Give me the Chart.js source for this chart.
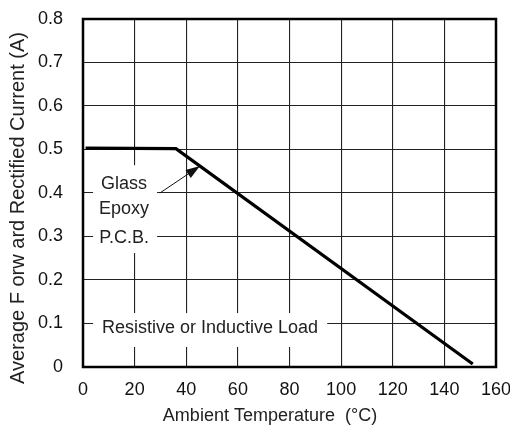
<!DOCTYPE html>
<html>
<head>
<meta charset="utf-8">
<script src="https://cdn.jsdelivr.net/npm/chart.js@4/dist/chart.umd.min.js"></script>
<style>
    html, body { margin: 0; padding: 0; background: #fff; }
    #wrap { width: 510px; height: 428px; position: relative; }
</style>
</head>
<body>
<div id="wrap"><canvas id="derating"></canvas></div>
<script>
// derating curve
const tempC = [1, 36, 151];
const currentA = [0.503, 0.502, 0.007];

const xTicks = [0, 20, 40, 60, 80, 100, 120, 140, 160];
const yTicks = [0, 0.1, 0.2, 0.3, 0.4, 0.5, 0.6, 0.7, 0.8];

const xTitle = "Ambient Temperature  (°C)";
const yTitle = "Average F orw ard Rectified Current (A)";

const pcbLines = ["Glass", "Epoxy", "P.C.B."];
const loadNote = "Resistive or Inductive Load";

const FONT = "'Liberation Sans', Arial, sans-serif";

function noAutoPad(s) {
    s.paddingTop = 0;
    s.paddingBottom = 0;
    s.paddingLeft = 0;
    s.paddingRight = 0;
}

const notesPlugin = {
    id: "notes",
    beforeDatasetsDraw(chart) {
        const { ctx } = chart;
        const xs = chart.scales.x;
        const ys = chart.scales.y;
        const px = v => xs.getPixelForValue(v);
        const py = v => ys.getPixelForValue(v);

        ctx.save();
        // white boxes behind the notes, knock out the grid
        ctx.fillStyle = "#fff";
        ctx.fillRect(px(3.9), py(0.464), px(28.7) - px(3.9), py(0.262) - py(0.464));
        ctx.fillRect(px(3.9), py(0.124), px(94.6) - px(3.9), py(0.046) - py(0.124));

        ctx.fillStyle = "#222";
        ctx.font = "18px " + FONT;
        ctx.textAlign = "center";
        ctx.textBaseline = "middle";
        const rowY = [0.42, 0.362, 0.296];
        pcbLines.forEach((t, i) => ctx.fillText(t, px(15.9), py(rowY[i])));
        ctx.fillText(loadNote, px(49.2), py(0.089));

        // arrow
        const x0 = px(29.8), y0 = py(0.40), x1 = px(45.3), y1 = py(0.462);
        ctx.strokeStyle = "#111";
        ctx.lineWidth = 1;
        ctx.beginPath();
        ctx.moveTo(x0, y0);
        ctx.lineTo(x1, y1);
        ctx.stroke();
        const a = Math.atan2(y1 - y0, x1 - x0);
        const len = 15, half = 0.32;
        ctx.fillStyle = "#111";
        ctx.beginPath();
        ctx.moveTo(x1, y1);
        ctx.lineTo(x1 - len * Math.cos(a - half), y1 - len * Math.sin(a - half));
        ctx.lineTo(x1 - len * Math.cos(a + half), y1 - len * Math.sin(a + half));
        ctx.closePath();
        ctx.fill();
        ctx.restore();
    },
    afterDraw(chart) {
        const { ctx, chartArea: ca } = chart;
        ctx.save();
        ctx.strokeStyle = "#000";
        ctx.lineWidth = 2.5;
        ctx.strokeRect(ca.left, ca.top, ca.right - ca.left, ca.bottom - ca.top);

        ctx.fillStyle = "#222";
        ctx.font = "18px " + FONT;
        ctx.textAlign = "center";
        ctx.textBaseline = "middle";
        ctx.fillText(xTitle, 270, 416);

        ctx.font = "20px " + FONT;
        ctx.translate(18, 208);
        ctx.rotate(-Math.PI / 2);
        ctx.fillText(yTitle, 0, 0);
        ctx.restore();
    }
};

new Chart(document.getElementById("derating"), {
    type: "scatter",
    data: {
        datasets: [{
            data: tempC.map((t, i) => ({ x: t, y: currentA[i] })),
            showLine: true,
            borderColor: "#000",
            borderWidth: 3.2,
            pointRadius: 0,
            tension: 0
        }]
    },
    options: {
        responsive: true,
        maintainAspectRatio: false,
        animation: false,
        layout: { padding: { top: 19, right: 14, bottom: 0, left: 0 } },
        plugins: {
            legend: { display: false },
            tooltip: { enabled: false }
        },
        scales: {
            x: {
                type: "linear",
                min: 0,
                max: 160,
                afterBuildTicks: s => { s.ticks = xTicks.map(v => ({ value: v })); },
                afterFit: s => { s.height = 61; noAutoPad(s); },
                ticks: {
                    color: "#111",
                    font: { family: FONT, size: 18 },
                    padding: 12,
                    maxRotation: 0,
                    autoSkip: false
                },
                grid: { color: "#222", lineWidth: 1.1, drawTicks: false },
                border: { display: false }
            },
            y: {
                type: "linear",
                min: 0,
                max: 0.8,
                afterBuildTicks: s => { s.ticks = yTicks.map(v => ({ value: v })); },
                afterFit: s => { s.width = 83; noAutoPad(s); },
                ticks: {
                    color: "#111",
                    font: { family: FONT, size: 18 },
                    padding: 20,
                    autoSkip: false,
                    callback: v => (v === 0 ? "0" : v.toFixed(1))
                },
                grid: { color: "#222", lineWidth: 1.1, drawTicks: false },
                border: { display: false }
            }
        }
    },
    plugins: [notesPlugin]
});
</script>
</body>
</html>
